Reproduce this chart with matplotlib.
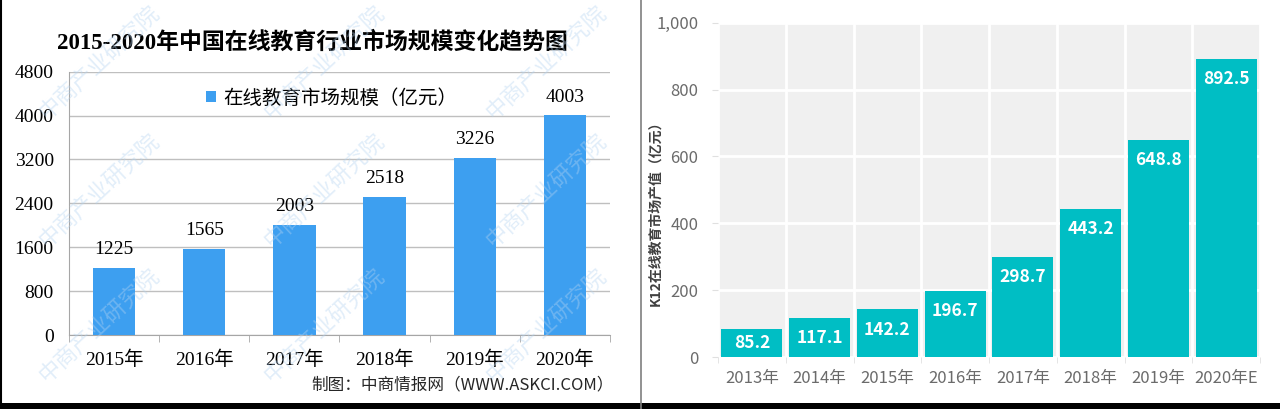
import numpy as np
import matplotlib
matplotlib.use('Agg')
import matplotlib.pyplot as plt
from matplotlib.lines import Line2D
from matplotlib.patches import Rectangle

plt.rcParams['font.family'] = ['Noto Sans CJK SC', 'DejaVu Sans']

# 左图：2015-2020年中国在线教育行业市场规模
left_years = ['2015年', '2016年', '2017年', '2018年', '2019年', '2020年']
left_values = [1225, 1565, 2003, 2518, 3226, 4003]
left_yticks = [0, 800, 1600, 2400, 3200, 4000, 4800]

# 右图：K12在线教育市场产值
right_years = ['2013年', '2014年', '2015年', '2016年', '2017年', '2018年', '2019年', '2020年E']
right_values = [85.2, 117.1, 142.2, 196.7, 298.7, 443.2, 648.8, 892.5]
right_yticks = [0, 200, 400, 600, 800, 1000]

serif = ['Liberation Serif', 'Noto Sans CJK SC']
W, H = 1280, 409

fig = plt.figure(figsize=(12.8, 4.09), dpi=100)


def fx(px):
    return px / W


def fy(py):
    return 1 - py / H


# * left chart
ax1 = fig.add_axes([fx(69), fy(335), fx(610 - 69), (335 - 71.7) / H])
x1 = np.arange(len(left_years))
bars1 = ax1.bar(x1, left_values, width=0.47, color='#3d9ff0', zorder=3,
                label='在线教育市场规模（亿元）')
ax1.set_xlim(-0.5, len(left_years) - 0.5)
ax1.set_ylim(0, 4800)
ax1.set_yticks(left_yticks)
ax1.set_yticklabels([str(v) for v in left_yticks], family=serif, fontsize=14)
ax1.set_xticks(x1)
ax1.set_xticklabels(left_years, family=serif, fontsize=14)
ax1.set_xticks(np.arange(-0.5, len(left_years)), minor=True)
ax1.tick_params(axis='x', which='major', length=0, pad=11)
ax1.tick_params(axis='x', which='minor', length=5, color='#a6a6a6')
ax1.tick_params(axis='y', length=0, pad=11)
ax1.grid(axis='y', color='#bfbfbf', linewidth=1, zorder=0)
for s in ['top', 'right']:
    ax1.spines[s].set_visible(False)
for s in ['left', 'bottom']:
    ax1.spines[s].set_color('#a6a6a6')
for b, v in zip(bars1, left_values):
    ax1.annotate(str(v), (b.get_x() + b.get_width() / 2, v),
                 xytext=(0, 7), textcoords='offset points', ha='center',
                 va='bottom', fontsize=14, family=serif, zorder=4)
ax1.legend(loc='center left', bbox_to_anchor=(fx(188), fy(98)),
           bbox_transform=fig.transFigure, frameon=False, fontsize=14,
           handlelength=0.55, handleheight=0.55, handletextpad=0.35)
fig.text(fx(312), fy(42), '2015-2020年中国在线教育行业市场规模变化趋势图',
         ha='center', va='center', fontsize=16.5, fontweight='bold',
         family=serif)
fig.text(fx(614), fy(385), '制图：中商情报网（WWW.ASKCI.COM）',
         ha='right', va='center', fontsize=12, color='#262626')

# 水印
for wx in [100, 325, 547]:
    for wy in [62, 190, 325]:
        fig.text(fx(wx), fy(wy), '中商产业研究院', rotation=43,
                 ha='center', va='center', fontsize=16,
                 color='#b5d4f1', alpha=0.4, zorder=10)

# * right chart
ax2 = fig.add_axes([fx(718), fy(357), fx(1260 - 718), (357 - 22.7) / H])
ax2.set_facecolor('#f0f0f0')
x2 = np.arange(len(right_years))
bars2 = ax2.bar(x2, right_values, width=0.9, color='#00bec4', zorder=3)
ax2.set_xlim(-0.5, len(right_years) - 0.5)
ax2.set_ylim(0, 1000)
ax2.set_yticks(right_yticks)
ax2.set_yticklabels(['{:,}'.format(v) for v in right_yticks], fontsize=12,
                    color='#6b6b6b')
ax2.set_xticks(x2)
ax2.set_xticklabels(right_years, fontsize=12, color='#6b6b6b')
ax2.set_xticks(np.arange(-0.5, len(right_years)), minor=True)
ax2.tick_params(axis='x', which='major', length=0, pad=9)
ax2.tick_params(axis='x', which='minor', length=4, color='#e0e0e0')
ax2.tick_params(axis='y', length=4, color='#e0e0e0', pad=10)
ax2.grid(axis='y', which='major', color='white', linewidth=2, zorder=1)
ax2.grid(axis='x', which='minor', color='white', linewidth=2, zorder=1)
ax2.grid(axis='x', which='major', visible=False)
for s in ax2.spines.values():
    s.set_visible(False)
for b, v in zip(bars2, right_values):
    if v < 100:
        ax2.text(b.get_x() + b.get_width() / 2, v / 2, '{:.1f}'.format(v),
                 ha='center', va='center', color='white', fontsize=12.5,
                 fontweight='bold', zorder=4)
    else:
        ax2.annotate('{:.1f}'.format(v), (b.get_x() + b.get_width() / 2, v),
                     xytext=(0, -14.5), textcoords='offset points',
                     ha='center', va='center', color='white', fontsize=12.5,
                     fontweight='bold', zorder=4)
fig.text(fx(655), fy(210), 'K12在线教育市场产值（亿元）', rotation=90,
         ha='center', va='center', fontsize=10, fontweight='bold',
         color='#404040')

# 边框
fig.add_artist(Line2D([fx(640.5), fx(640.5)], [0, 1], color='#7f7f7f',
                      linewidth=1.2))
fig.add_artist(Line2D([fx(0.5), fx(0.5)], [0, 1], color='black',
                      linewidth=1.5))
fig.add_artist(Rectangle((0, 0), 1, 6 / H, color='black', linewidth=0))

fig.savefig('out.png', dpi=100)
